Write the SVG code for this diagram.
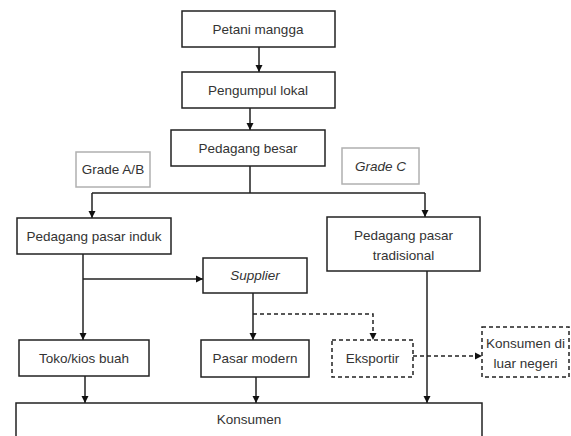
<svg xmlns="http://www.w3.org/2000/svg" width="571" height="436" viewBox="0 0 571 436">
<defs>
<style>
.box{fill:#fff;stroke:#222;stroke-width:1.5}
.dbox{fill:#fff;stroke:#222;stroke-width:1.5;stroke-dasharray:4 3}
.gbox{fill:#fff;stroke:#b0b0b0;stroke-width:1.5}
text{font-family:"Liberation Sans",Arial,sans-serif;font-size:13.5px;fill:#333;text-anchor:middle;dominant-baseline:central}
.it{font-style:italic}
.ln{fill:none;stroke:#222;stroke-width:1.5}
.dl{fill:none;stroke:#222;stroke-width:1.5;stroke-dasharray:4 3}
</style>
<marker id="ah" markerWidth="8" markerHeight="8" refX="7" refY="4" orient="auto" markerUnits="userSpaceOnUse">
<path d="M0,0.5 L7,4 L0,7.5 Z" fill="#111"/>
</marker>
</defs>
<rect width="571" height="436" fill="#fff"/>
<g id="connectors">
<path class="ln" d="M259,47 V72" marker-end="url(#ah)"/>
<path class="ln" d="M250,108 V130" marker-end="url(#ah)"/>
<path class="ln" d="M250,166 V193 M92,193 H425"/>
<path class="ln" d="M92,193 V218" marker-end="url(#ah)"/>
<path class="ln" d="M425,193 V217" marker-end="url(#ah)"/>
<path class="ln" d="M83,254 V340" marker-end="url(#ah)"/>
<path class="ln" d="M83,279 H203" marker-end="url(#ah)"/>
<path class="ln" d="M253,293 V340" marker-end="url(#ah)"/>
<path class="dl" d="M253,314 H373 V340" marker-end="url(#ah)"/>
<path class="dl" d="M413,356 H482" marker-end="url(#ah)"/>
<path class="ln" d="M427,271 V403" marker-end="url(#ah)"/>
<path class="ln" d="M85,376 V403" marker-end="url(#ah)"/>
<path class="ln" d="M256,377 V403" marker-end="url(#ah)"/>
</g>
<g id="petani"><rect class="box" x="182" y="11" width="153" height="36"/><text x="258" y="29">Petani mangga</text></g>
<g id="pengumpul"><rect class="box" x="182" y="72" width="153" height="36"/><text x="258" y="90">Pengumpul lokal</text></g>
<g id="pedagang-besar"><rect class="box" x="171" y="130" width="154" height="36"/><text x="248" y="148">Pedagang besar</text></g>
<g id="grade-ab"><rect class="gbox" x="76" y="152" width="74" height="35"/><text x="113" y="169.5">Grade A/B</text></g>
<g id="grade-c"><rect class="gbox" x="342" y="148" width="77" height="36"/><text class="it" x="380.5" y="166">Grade C</text></g>
<g id="pasar-induk"><rect class="box" x="17" y="218" width="154" height="36"/><text x="94" y="236">Pedagang pasar induk</text></g>
<g id="pasar-tradisional"><rect class="box" x="327" y="217" width="153" height="54"/><text x="403.5" y="235">Pedagang pasar</text><text x="403.5" y="255">tradisional</text></g>
<g id="supplier"><rect class="box" x="203" y="258" width="104" height="35"/><text class="it" x="255" y="275.5">Supplier</text></g>
<g id="toko"><rect class="box" x="19" y="340" width="130" height="36"/><text x="84" y="358">Toko/kios buah</text></g>
<g id="pasar-modern"><rect class="box" x="201" y="340" width="108" height="37"/><text x="255" y="358.5">Pasar modern</text></g>
<g id="eksportir"><rect class="dbox" x="332" y="340" width="81" height="37"/><text x="372.5" y="358.5">Eksportir</text></g>
<g id="konsumen-ln"><rect class="dbox" x="482" y="327" width="87" height="50"/><text x="525.5" y="343">Konsumen di</text><text x="525.5" y="363">luar negeri</text></g>
<g id="konsumen"><rect class="box" x="16" y="403" width="466" height="40"/><text x="249" y="419">Konsumen</text></g>
</svg>
